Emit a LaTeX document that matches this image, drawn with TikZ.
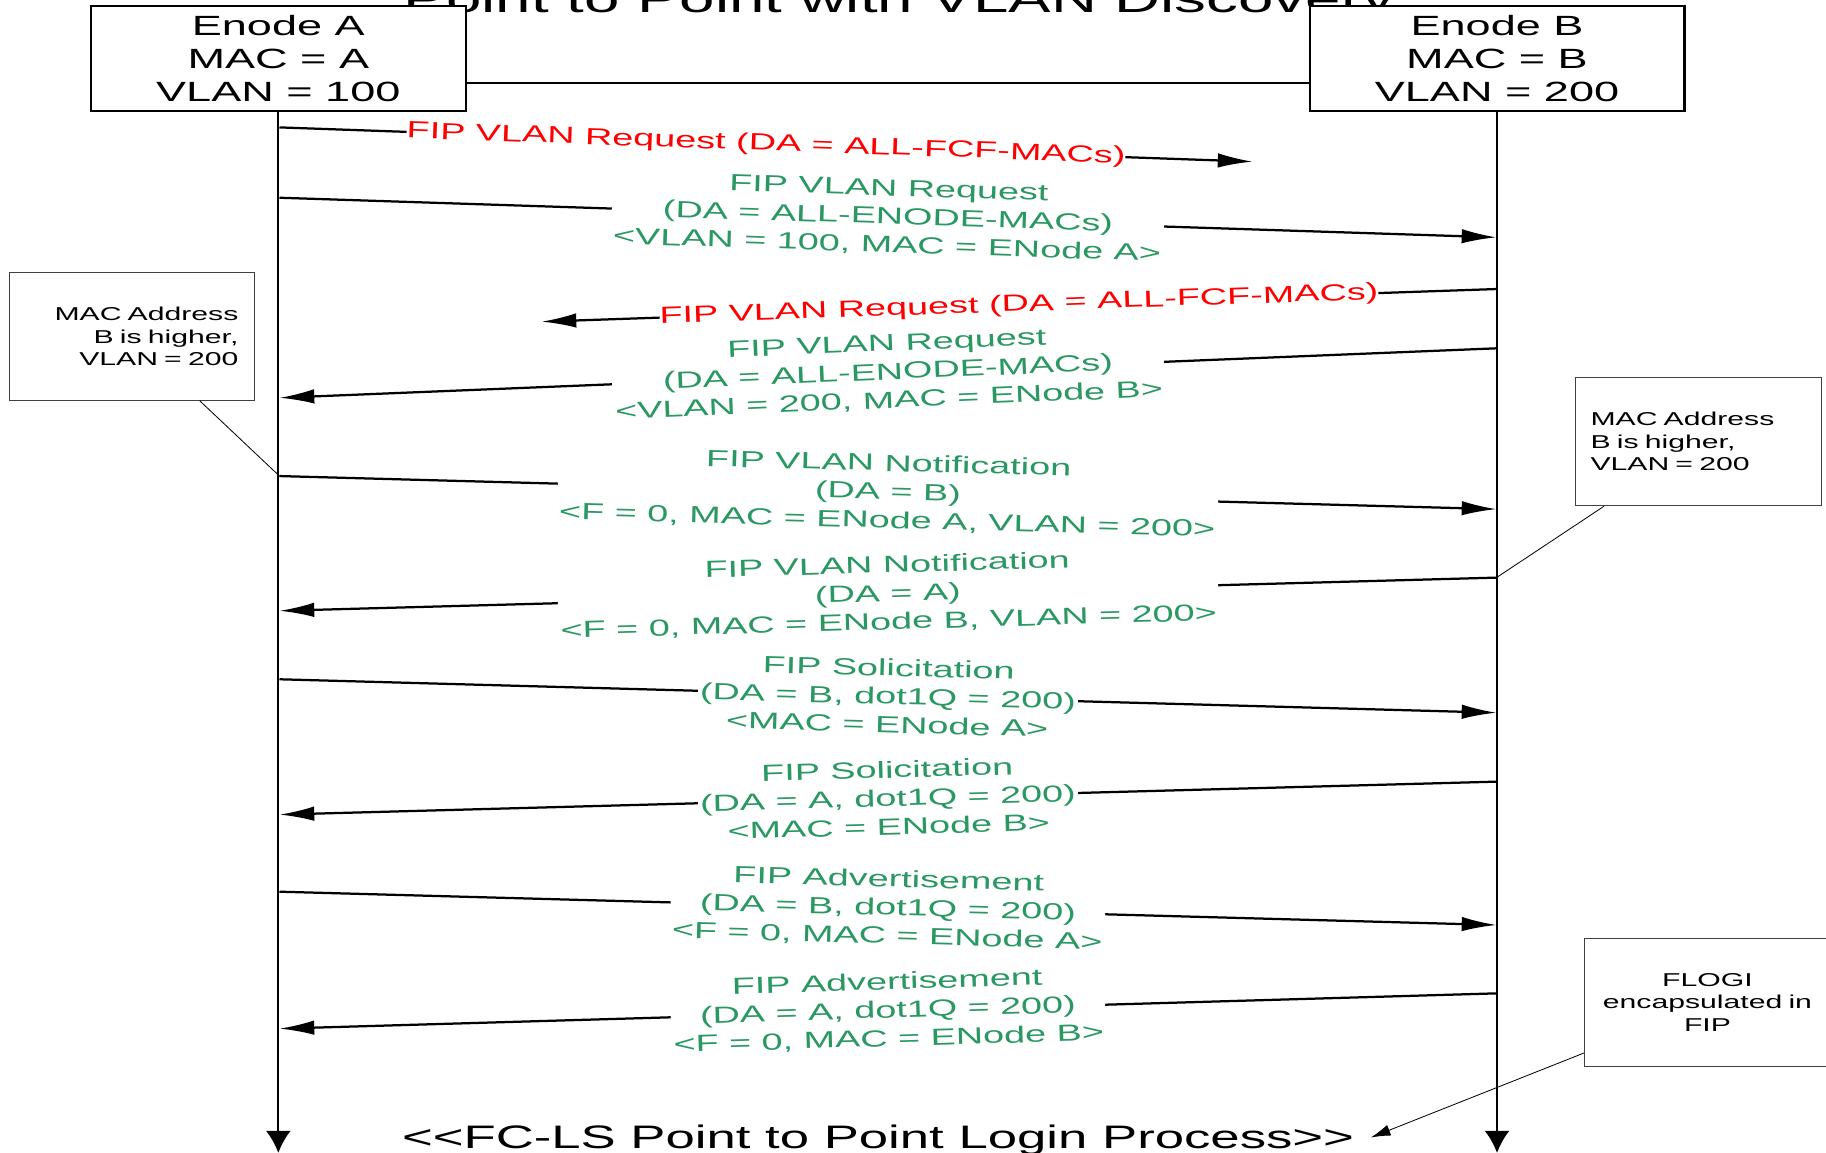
\documentclass[tikz,border=0pt]{standalone}
\usepackage{fontspec}
\setmainfont{Liberation Sans}[FakeStretch=1.62]
\usetikzlibrary{arrows.meta,positioning,calc}
\usepackage{xcolor}
\definecolor{fipgreen}{RGB}{42,152,98}
\definecolor{fipred}{RGB}{255,0,0}
\newcommand{\hdrfont}{\fontsize{13.6}{16.2}\selectfont}
\newcommand{\msgfont}{\fontsize{11.4}{13.9}\selectfont}
\newcommand{\notefont}{\fontsize{9.1}{11}\selectfont}
\newcommand{\loginfont}{\fontsize{15.9}{19}\selectfont}
\newcommand{\titlefont}{\fontsize{19.2}{23}\selectfont}

\begin{document}
\begin{tikzpicture}[
    x=0.02cm, y=-0.02cm,
    every node/.style={font=\msgfont},
    header/.style={rectangle, draw, line width=1pt, fill=white, minimum width=6.44cm, minimum height=1.8cm, align=center, inner sep=0pt, font=\hdrfont},
    lifeline/.style={line width=1pt, -{Latex[length=10.8pt, width=12.2pt]}},
    msgline/.style={line width=1.1pt, -{Latex[length=17pt, width=7.1pt]}},
    fip/.style={sloped, fill=white, align=center, inner xsep=1pt, inner ysep=0pt, text=fipgreen},
    bcast/.style={sloped, fill=white, inner sep=0pt, text=fipred},
    note/.style={rectangle, draw=black!75, line width=0.5pt, fill=white, minimum width=4.22cm, minimum height=2.2cm, font=\notefont},
    notelink/.style={line width=0.4pt}
]
\useasboundingbox (0,0) rectangle (1568,990);

% Title (cut by the top edge)
\node[anchor=base, font=\titlefont] (title) at (772,11) {Point to Point with VLAN Discovery};

% Enodes
\node[header] (boxA) at (239,50) {Enode A\\MAC = A\\VLAN = 100};
\node[header] (boxB) at (1285.5,50) {Enode B\\MAC = B\\VLAN = 200};
\coordinate (linkY) at (0,71);
\draw[line width=1pt] (boxA.east |- linkY) -- (boxB.west |- linkY);

% Lifelines
\coordinate (endY) at (0,990);
\draw[lifeline] (boxA.south) -- (boxA.south |- endY);
\draw[lifeline] (boxB.south) -- (boxB.south |- endY);

% Message end points
\coordinate (a1) at (240,109.4);   \coordinate (r1) at (1075.6,138.8);
\coordinate (a2) at (240,169.8);   \coordinate (b2) at (1285,203.8);
\coordinate (b3) at (1285,248.2);  \coordinate (r3) at (465,276.2);
\coordinate (b4) at (1285,299.1);  \coordinate (a4) at (240,341.6);
\coordinate (a5) at (240,408.8);   \coordinate (b5) at (1285,437.2);
\coordinate (b6) at (1285,496);    \coordinate (a6) at (240,524.5);
\coordinate (a7) at (240,583.3);   \coordinate (b7) at (1285,612);
\coordinate (b8) at (1285,671.2);  \coordinate (a8) at (240,699.5);
\coordinate (a9) at (240,765.7);   \coordinate (b9) at (1285,794.3);
\coordinate (b10) at (1285,853);   \coordinate (a10) at (240,883.3);

% VLAN discovery
\draw[msgline] (a1) -- node[bcast] (m1) {FIP VLAN Request (DA = ALL-FCF-MACs)} (r1);
\draw[msgline] (a2) -- node[fip] (m2) {FIP VLAN Request\\(DA = ALL-ENODE-MACs)\\<VLAN = 100, MAC = ENode A>} (b2);
\draw[msgline] (b3) -- node[bcast] (m3) {FIP VLAN Request (DA = ALL-FCF-MACs)} (r3);
\draw[msgline] (b4) -- node[fip] (m4) {FIP VLAN Request\\(DA = ALL-ENODE-MACs)\\<VLAN = 200, MAC = ENode B>} (a4);

% VLAN notification
\draw[msgline] (a5) -- node[fip] (m5) {FIP VLAN Notification\\(DA = B)\\<F = 0, MAC = ENode A, VLAN = 200>} (b5);
\draw[msgline] (b6) -- node[fip] (m6) {FIP VLAN Notification\\(DA = A)\\<F = 0, MAC = ENode B, VLAN = 200>} (a6);

% Solicitation and advertisement
\draw[msgline] (a7) -- node[fip] (m7) {FIP Solicitation\\(DA = B, dot1Q = 200)\\<MAC = ENode A>} (b7);
\draw[msgline] (b8) -- node[fip] (m8) {FIP Solicitation\\(DA = A, dot1Q = 200)\\<MAC = ENode B>} (a8);
\draw[msgline] (a9) -- node[fip] (m9) {FIP Advertisement\\(DA = B, dot1Q = 200)\\<F = 0, MAC = ENode A>} (b9);
\draw[msgline] (b10) -- node[fip] (m10) {FIP Advertisement\\(DA = A, dot1Q = 200)\\<F = 0, MAC = ENode B>} (a10);

% Notes
\node[note, align=right, text width=3.66cm, inner xsep=0.28cm] (noteA) at (113.25,288.9) {MAC Address\\B is higher,\\VLAN = 200};
\draw[notelink] ($(noteA.south west)!0.776!(noteA.south east)$) -- (a5);

\node[note, align=left, text width=3.72cm, inner xsep=0.25cm] (noteB) at (1458.75,379.25) {MAC Address\\B is higher,\\VLAN = 200};
\draw[notelink] ($(noteB.south west)!0.116!(noteB.south east)$) -- (b6);

% Login
\node[anchor=base, font=\loginfont, inner sep=0pt] (login) at (754,986) {<\kern0pt<FC-LS Point to Point Login Process>\kern0pt>};
\node[note, align=center, text width=3.8cm, inner xsep=0.21cm] (flogi) at (1466.2,860.6) {FLOGI\\encapsulated in\\FIP};
\draw[notelink, -{Latex[length=9.6pt, width=5.5pt]}] ($(flogi.north west)!0.893!(flogi.south west)$) -- ([xshift=0.28cm, yshift=0.04cm]login.east);

\end{tikzpicture}
\end{document}
